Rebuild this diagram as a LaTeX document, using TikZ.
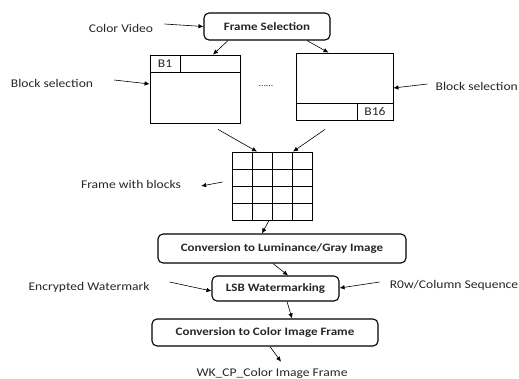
\documentclass[tikz,border=0pt]{standalone}
\usepackage{fontspec}
\setmainfont{Carlito}[FakeStretch=1.15]
\usetikzlibrary{arrows.meta}
\begin{document}
\begin{tikzpicture}[x=1pt,y=-1pt,
  font=\fontsize{11.8}{13}\selectfont,
  proc/.style={draw,line width=1.1pt,rounded corners=5pt,inner sep=0pt,font=\fontsize{11.3}{13}\selectfont\bfseries,text=black!85},
  blk/.style={draw,line width=0.8pt,inner sep=0pt},
  lbl/.style={inner sep=0pt,text=black!85},
  arr/.style={-{Latex[length=5pt,width=4.5pt]},line width=0.6pt}]
\useasboundingbox (0,0) rectangle (519,378);
% process boxes
\node[proc,minimum width=126pt,minimum height=27pt] (fs) at (267,26.5) {Frame Selection};
\node[proc,minimum width=248pt,minimum height=29pt] (c1) at (282,248.5) {Conversion to Luminance/Gray Image};
\node[proc,minimum width=127pt,minimum height=25pt] (lsb) at (275.5,288.5) {LSB Watermarking};
\node[proc,minimum width=226pt,minimum height=27pt] (c2) at (265,332.5) {Conversion to Color Image Frame};
% blocks
\node[blk,minimum width=90pt,minimum height=68pt] (lb) at (195,89) {};
\draw[line width=0.8pt] (150,72) -- (240,72) (180,55) -- (180,72);
\node[lbl] (b1) at (165,63.5) {B1};
\node[blk,minimum width=97pt,minimum height=67pt] (rb) at (344.5,86.5) {};
\draw[line width=0.8pt] (296,103) -- (393,103) (357,103) -- (357,120);
\node[lbl] (b16) at (375,111.5) {B16};
\node[lbl,anchor=base,font=\fontsize{8.5}{10}\selectfont] (dots) at (266,86) {......};
% grid
\node[blk,minimum width=80pt,minimum height=68pt] (grid) at (272,186) {};
\draw[line width=0.8pt] (252,152) -- (252,220) (272,152) -- (272,220) (292,152) -- (292,220)
  (232,169) -- (312,169) (232,186) -- (312,186) (232,203) -- (312,203);
% labels
\node[lbl] (cv) at (121,28) {Color Video};
\node[lbl] (bsl) at (52,83) {Block selection};
\node[lbl,anchor=east] (bsr) at (518,86) {Block selection};
\node[lbl] (fwb) at (131,184) {Frame with blocks};
\node[lbl] (ew) at (89,287) {Encrypted Watermark};
\node[lbl] (rc) at (454,285) {R0w/Column Sequence};
\node[lbl] (out) at (272,373) {WK\_CP\_Color Image Frame};
% arrows
\draw[arr] ([xshift=11pt,yshift=4pt]cv.east) -- (fs.west);
\draw[arr] ([xshift=-39pt]fs.south) -- ([xshift=18pt]lb.north);
\draw[arr] ([xshift=40pt]fs.south) -- ([xshift=-16pt]rb.north);
\draw[arr] ([xshift=21pt,yshift=3pt]bsl.east) -- ([yshift=5pt]lb.west);
\draw[arr] ([xshift=-8pt,yshift=2pt]bsr.west) -- ([yshift=-1.5pt]rb.east);
\draw[arr] ([xshift=23pt,yshift=-6pt]lb.south) -- ([xshift=-15pt]grid.north);
\draw[arr] ([xshift=-19.5pt,yshift=-9pt]rb.south) -- ([xshift=21pt]grid.north);
\draw[arr] ([xshift=-9pt,yshift=4pt]grid.west) -- ([xshift=20pt,yshift=-2pt]fwb.east);
\draw[arr] ([xshift=-3pt]grid.south) -- ([xshift=-20pt]c1.north);
\draw[arr] ([xshift=-9pt]c1.south) -- ([xshift=12.5pt]lsb.north);
\draw[arr] ([xshift=20pt,yshift=5pt]ew.east) -- ([yshift=-2.5pt]lsb.west);
\draw[arr] ([xshift=-10pt,yshift=3pt]rc.west) -- ([yshift=0.5pt]lsb.east);
\draw[arr] ([xshift=11.5pt]lsb.south) -- ([xshift=27pt]c2.north);
\draw[arr] ([xshift=5pt]c2.south) -- ([xshift=9pt,yshift=6pt]out.north);
\end{tikzpicture}
\end{document}
